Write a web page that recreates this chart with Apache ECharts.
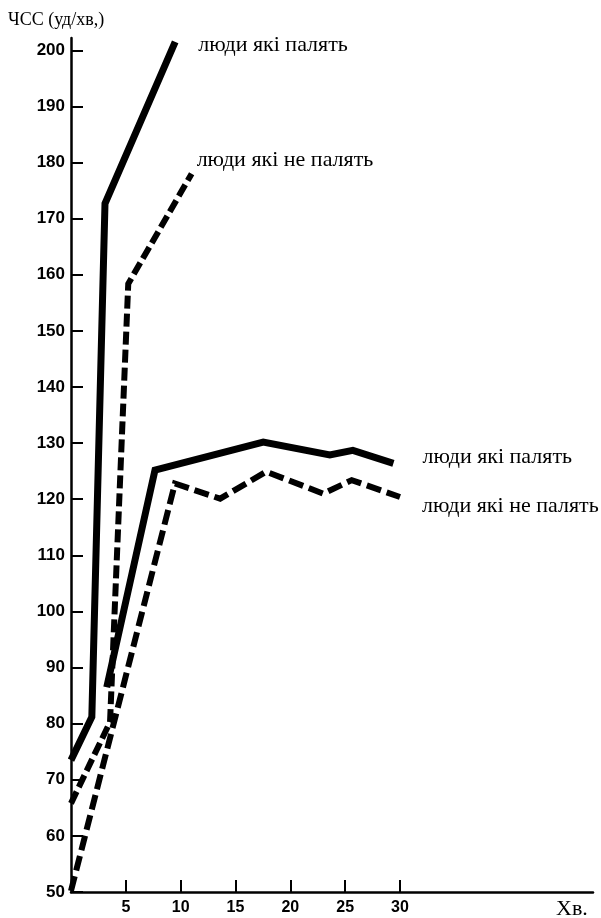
<!DOCTYPE html>
<html>
<head>
<meta charset="utf-8">
<script src="https://cdn.jsdelivr.net/npm/echarts@6/dist/echarts.min.js"></script>
<style>
html,body{margin:0;padding:0;background:#fff;}
#chart{width:601px;height:918px;}
</style>
</head>
<body>
<div id="chart"></div>
<script>
// Data (minutes, heart rate beats/min)
const smokersHeavy = [[0, 73.5], [1.9, 81.2], [3.1, 172.7], [9.5, 201.5]];
const nonSmokersHeavy = [[0, 65.8], [3.56, 80.3], [5.22, 158.4], [11.0, 178]];
const smokersModerate = [[3.26, 86.5], [7.66, 125.2], [17.53, 130.2], [23.6, 127.9], [25.7, 128.7], [29.4, 126.4]];
const nonSmokersModerate = [[0, 50.2], [9.48, 122.8], [13.6, 120.1], [17.8, 124.9], [23.0, 121.0], [25.6, 123.4], [30.0, 120.4]];
const labelSmokers = 'люди які палять';
const labelNonSmokers = 'люди які не палять';
const xTicks = [5, 10, 15, 20, 25, 30];
const yTicks = [50, 60, 70, 80, 90, 100, 110, 120, 130, 140, 150, 160, 170, 180, 190, 200];
const yTitle = 'ЧСС (уд/хв,)';
const xTitle = 'Хв.';

const serif = '"Liberation Serif", "DejaVu Serif", serif';
const sans = '"Liberation Sans", Arial, sans-serif';

function mkLabel(text, offset) {
  return {
    show: true,
    formatter: text,
    distance: 0,
    offset: offset,
    color: '#000',
    fontFamily: serif,
    fontSize: 22
  };
}

const chart = echarts.init(document.getElementById('chart'), null, {renderer: 'canvas'});
chart.setOption({
  animation: false,
  backgroundColor: '#fff',
  grid: {left: 71, right: 8, top: 38, bottom: 26},
  xAxis: {
    type: 'value', min: 0, max: 47.6,
    axisLine: {show: true, onZero: false, lineStyle: {color: '#000', width: 2.5}},
    axisTick: {show: true, inside: true, length: 12, lineStyle: {color: '#000', width: 2}, customValues: xTicks},
    axisLabel: {customValues: xTicks, color: '#000', fontFamily: sans, fontWeight: 'bold', fontSize: 16, margin: 8},
    splitLine: {show: false}
  },
  yAxis: {
    type: 'value', min: 50, max: 202.2,
    axisLine: {show: true, onZero: false, lineStyle: {color: '#000', width: 2.5}},
    axisTick: {show: true, inside: true, length: 12, lineStyle: {color: '#000', width: 2}, customValues: yTicks},
    axisLabel: {customValues: yTicks, color: '#000', fontFamily: sans, fontWeight: 'bold', fontSize: 17, margin: 6},
    splitLine: {show: false}
  },
  graphic: [
    {type: 'text', left: 8, top: 11, style: {text: yTitle, fill: '#000', font: '18px ' + serif}},
    {type: 'text', left: 556, top: 898, style: {text: xTitle, fill: '#000', font: '22px ' + serif}}
  ],
  series: [
    {type: 'line', data: smokersHeavy, symbol: 'none', clip: false,
     lineStyle: {color: '#000', width: 7, type: 'solid', cap: 'butt', join: 'miter'},
     endLabel: mkLabel(labelSmokers, [23, 3])},
    {type: 'line', data: nonSmokersHeavy, symbol: 'none', clip: false,
     lineStyle: {color: '#000', width: 6, type: [13, 5], cap: 'butt', join: 'miter'},
     endLabel: mkLabel(labelNonSmokers, [5, -14])},
    {type: 'line', data: smokersModerate, symbol: 'none', clip: false,
     lineStyle: {color: '#000', width: 7, type: 'solid', cap: 'butt', join: 'miter'},
     endLabel: mkLabel(labelSmokers, [29, -6])},
    {type: 'line', data: nonSmokersModerate, symbol: 'none', clip: false,
     lineStyle: {color: '#000', width: 6, type: [15, 6], cap: 'butt', join: 'miter'},
     endLabel: mkLabel(labelNonSmokers, [22, 9])}
  ]
});
</script>
</body>
</html>
